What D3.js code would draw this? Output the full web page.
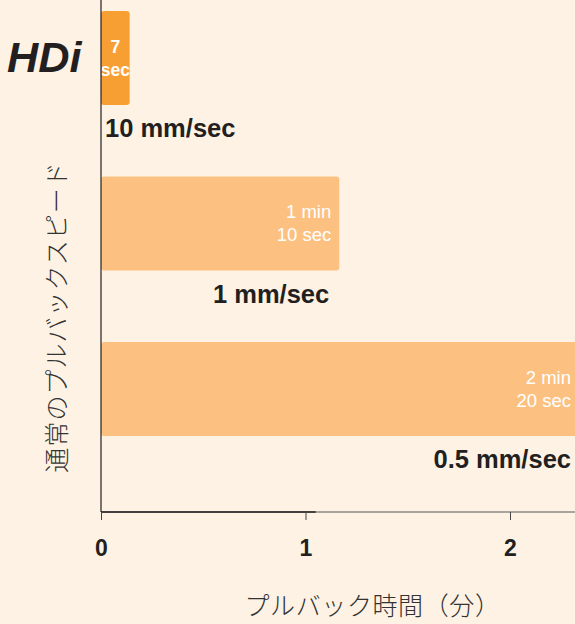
<!DOCTYPE html>
<html><head><meta charset="utf-8">
<script src="https://cdn.jsdelivr.net/npm/d3@7"></script>
<style>
html,body{margin:0;padding:0;background:#FDF2E4;}
svg{display:block;}
text{font-family:"Liberation Sans",Arial,"Noto Sans CJK JP",sans-serif;}
</style></head>
<body>
<script>
// Data
const categories = ["10 mm/sec", "1 mm/sec", "0.5 mm/sec"];
const durationsMin = [0.14, 1.165, 2.34];   // bar lengths in minutes
const timeLabels = [["7", "sec"], ["1 min", "10 sec"], ["2 min", "20 sec"]];
const xTicks = [0, 1, 2];
const xTitle = "プルバック時間（分）";
const yTitle = "通常のプルバックスピード";
const brand = "HDi";

const W = 575, H = 624;
const svg = d3.select("body").append("svg").attr("width", W).attr("height", H);
svg.append("rect").attr("width", W).attr("height", H).attr("fill", "#FDF2E4");

const x0 = 101, axisY = 512;
const x = d3.scaleLinear().domain([0, 1]).range([x0, 305.5]);
const y = d3.scaleBand().domain(categories).range([11, 436]).paddingInner(0.432).paddingOuter(0);

const colors = ["#F89F34", "#FCC181", "#FCC181"];

const g = svg.append("g");
g.selectAll("rect.bar").data(categories).join("rect")
  .attr("class", "bar")
  .attr("x", x(0))
  .attr("y", d => y(d))
  .attr("width", (d, i) => x(durationsMin[i]) - x(0))
  .attr("height", y.bandwidth())
  .attr("rx", 3).attr("ry", 3)
  .attr("fill", (d, i) => colors[i]);

categories.forEach((c, i) => {
  const end = x(durationsMin[i]);
  const first = i === 0;
  const tx = first ? (x(0) + end) / 2 : Math.min(end, W) - (i === 2 ? 4 : 8);
  const anchor = first ? "middle" : "end";
  const top = y(c);
  const lines = timeLabels[i];
  [0, 1].forEach(k => {
    g.append("text").attr("x", tx).attr("y", top + (k ? 65 : 42))
      .attr("text-anchor", anchor).attr("fill", "#fff")
      .attr("font-size", first ? 17.5 : 18.5).attr("font-weight", first ? "bold" : "normal")
      .text(lines[k]);
  });
  g.append("text")
    .attr("x", first ? x(0) + 4 : Math.min(end, W) - (i === 2 ? 4 : 10))
    .attr("y", top + y.bandwidth() + 32)
    .attr("text-anchor", first ? "start" : "end")
    .attr("fill", "#231F20").attr("font-size", 25.5).attr("font-weight", "bold")
    .text(c);
});

// axes
svg.append("line").attr("x1", x0).attr("x2", x0).attr("y1", 0).attr("y2", axisY)
  .attr("stroke", "#231F20").attr("stroke-width", 1.2);
svg.append("line").attr("x1", x0).attr("x2", W).attr("y1", axisY).attr("y2", axisY)
  .attr("stroke", "#555").attr("stroke-width", 1);
svg.append("line").attr("x1", x0).attr("x2", x(1.05)).attr("y1", axisY).attr("y2", axisY)
  .attr("stroke", "#231F20").attr("stroke-width", 1.3);

const xAxis = d3.axisBottom(x).tickValues(xTicks).tickSize(8).tickFormat(d3.format("d"));
const ax = svg.append("g").attr("transform", `translate(0,${axisY})`).call(xAxis);
ax.select(".domain").remove();
ax.selectAll(".tick line").attr("stroke", "#444");
ax.selectAll(".tick text").attr("font-size", 23).attr("font-weight", "bold")
  .attr("fill", "#231F20").attr("dy", 0).attr("y", 44)
  .attr("font-family", "'Liberation Sans',Arial,sans-serif");

// titles
svg.append("text").attr("x", 372.5).attr("y", 615).attr("text-anchor", "middle")
  .attr("font-size", 25).attr("fill", "#333").attr("letter-spacing", 0.6).attr("font-weight", 300)
  .attr("font-family", "'Noto Sans CJK JP',sans-serif").text(xTitle);
svg.append("text").attr("transform", "translate(66,317) rotate(-90)")
  .attr("text-anchor", "middle").attr("font-size", 25).attr("fill", "#333")
  .attr("letter-spacing", 1).attr("font-weight", 300)
  .attr("font-family", "'Noto Sans CJK JP',sans-serif").text(yTitle);

svg.append("text").attr("transform", "translate(7,72) scale(1.03,1)")
  .attr("font-size", 42)
  .attr("font-weight", "bold").attr("font-style", "italic").attr("fill", "#231F20")
  .text(brand);
</script>
</body></html>
